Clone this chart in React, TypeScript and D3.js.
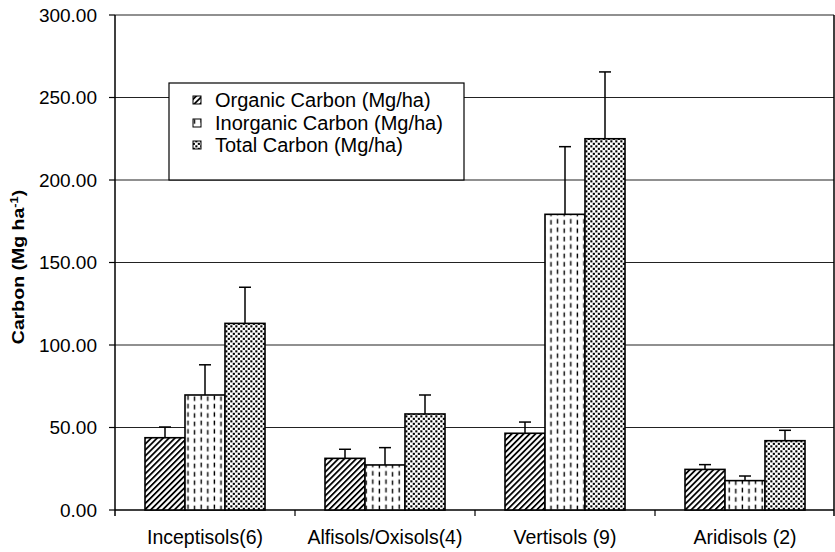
import React from "react";
import * as d3 from "d3";

const categories = ["Inceptisols(6)", "Alfisols/Oxisols(4)", "Vertisols (9)", "Aridisols (2)"];
const seriesNames = ["Organic Carbon (Mg/ha)", "Inorganic Carbon (Mg/ha)", "Total Carbon (Mg/ha)"];
const organic = [43.8, 31.3, 46.5, 24.6];
const organicErr = [6.5, 5.5, 6.8, 2.9];
const inorganic = [69.7, 27.3, 179.2, 17.8];
const inorganicErr = [18.3, 10.5, 41.0, 2.8];
const total = [113.1, 58.2, 225.0, 42.0];
const totalErr = [21.9, 11.5, 40.5, 6.3];
const yTicks = [0, 50, 100, 150, 200, 250, 300];

const W = 835;
const H = 552;
const left = 115;
const right = 834;
const top = 15;
const bottom = 510;
const font = "'Liberation Sans', Arial, sans-serif";

const values = [organic, inorganic, total];
const errors = [organicErr, inorganicErr, totalErr];
const patternIds = ["pOrg", "pInorg", "pTot"];

export default function App() {
  const y = d3.scaleLinear().domain([0, 300]).range([bottom, top]);
  const x = d3
    .scaleBand<string>()
    .domain(categories)
    .range([left, right + 1])
    .paddingInner(1 / 3)
    .paddingOuter(1 / 6);
  const x1 = d3
    .scaleBand<string>()
    .domain(seriesNames)
    .range([0, x.bandwidth()]);
  const step = x.step();
  const catEdges = categories.map((_, i) => left + i * step);

  return (
    <svg
      width={W}
      height={H}
      style={{ position: "absolute", left: 0, top: 0, background: "#fff" }}
      fontFamily={font}
    >
      <defs>
        <pattern id="pOrg" width="4.2" height="4.2" patternUnits="userSpaceOnUse" patternTransform="rotate(45)">
          <rect width="4.2" height="4.2" fill="#fff" />
          <rect x="0" y="0" width="1.8" height="4.2" fill="#000" />
        </pattern>
        <pattern id="pInorg" width="13.2" height="8.4" patternUnits="userSpaceOnUse">
          <rect width="13.2" height="8.4" fill="#fff" />
          <rect x="2.5" y="0.6" width="1.4" height="4.6" fill="#000" />
          <rect x="9.1" y="1.6" width="1.4" height="4.6" fill="#000" />
        </pattern>
        <pattern id="pTot" width="5" height="5" patternUnits="userSpaceOnUse">
          <rect width="5" height="5" fill="#fff" />
          <rect x="0.3" y="0.3" width="2.1" height="2.1" fill="#000" />
          <rect x="2.8" y="2.8" width="2.1" height="2.1" fill="#000" />
        </pattern>
      </defs>

      {/* gridlines */}
      {yTicks.filter((t) => t > 0).map((t) => (
        <line key={"g" + t} x1={left} x2={right} y1={y(t)} y2={y(t)} stroke="#222" strokeWidth={1.2} />
      ))}
      {/* right border */}
      <line x1={right} x2={right} y1={top} y2={bottom + 6} stroke="#000" strokeWidth={1.5} />

      {/* y axis */}
      <line x1={left} x2={left} y1={top} y2={bottom + 6} stroke="#000" strokeWidth={1.5} />
      {yTicks.map((t) => (
        <g key={"t" + t}>
          <line x1={left - 6} x2={left} y1={y(t)} y2={y(t)} stroke="#000" strokeWidth={1.2} />
          <text x={97} y={y(t)} dy="0.36em" textAnchor="end" fontSize={19} fill="#000">
            {t.toFixed(2)}
          </text>
        </g>
      ))}

      {/* x axis */}
      <line x1={left} x2={right} y1={bottom} y2={bottom} stroke="#000" strokeWidth={1.5} />
      {catEdges.slice(1).map((e, i) => (
        <line key={"xt" + i} x1={e} x2={e} y1={bottom} y2={bottom + 6} stroke="#000" strokeWidth={1.2} />
      ))}
      {categories.map((c) => (
        <text key={"c" + c} x={(x(c) as number) + x.bandwidth() / 2} y={544} textAnchor="middle" fontSize={19.5} fill="#000">
          {c}
        </text>
      ))}

      {/* bars */}
      {categories.map((c, ci) =>
        seriesNames.map((s, si) => {
          const bx = (x(c) as number) + (x1(s) as number);
          const bw = x1.bandwidth();
          const v = values[si][ci];
          const e = errors[si][ci];
          const cx = bx + bw / 2;
          return (
            <g key={c + s}>
              <line x1={cx} x2={cx} y1={y(v)} y2={y(v + e)} stroke="#000" strokeWidth={1.5} />
              <line x1={cx - 6} x2={cx + 6} y1={y(v + e)} y2={y(v + e)} stroke="#000" strokeWidth={1.5} />
              <rect
                x={bx}
                y={y(v)}
                width={bw}
                height={bottom - y(v)}
                fill={`url(#${patternIds[si]})`}
                stroke="#000"
                strokeWidth={1.6}
              />
            </g>
          );
        })
      )}

      {/* y label */}
      <text
        transform={`translate(24, 267) rotate(-90) scale(1.22,1)`}
        textAnchor="middle"
        fontSize={16}
        fontWeight="bold"
        fill="#000"
      >
        Carbon (Mg ha<tspan dy="-6" fontSize={10.5}>-1</tspan>
        <tspan dy="6">)</tspan>
      </text>

      {/* legend */}
      <rect x={169} y={83} width={295} height={97} fill="#fff" stroke="#000" strokeWidth={1.2} />
      {seriesNames.map((s, i) => {
        const cy = [100, 123, 145][i];
        return (
          <g key={"l" + s}>
            <rect x={193} y={cy - 4} width={8} height={8} fill={`url(#${patternIds[i]})`} stroke="#000" strokeWidth={1} />
            <text x={215} y={cy} dy="0.36em" fontSize={20} fill="#000">
              {s}
            </text>
          </g>
        );
      })}
    </svg>
  );
}
